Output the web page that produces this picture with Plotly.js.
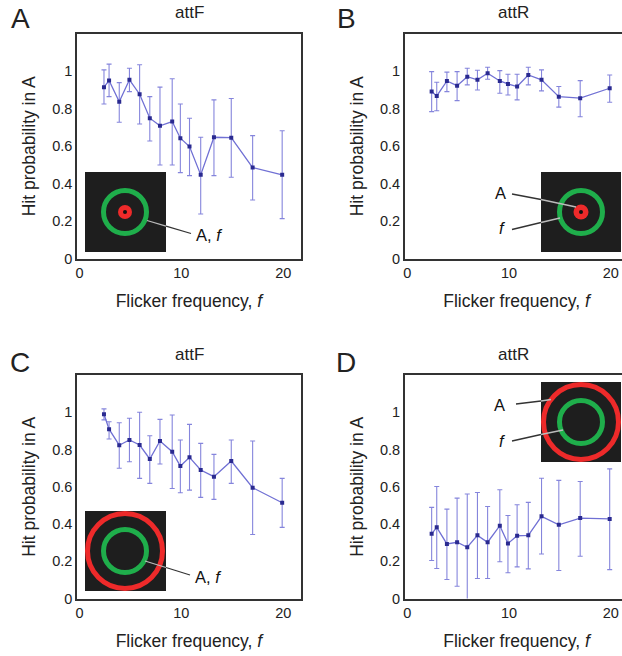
<!DOCTYPE html>
<html>
<head>
<meta charset="utf-8">
<script src="https://cdn.plot.ly/plotly-3.0.1.min.js"></script>
<style>
html,body{margin:0;padding:0;overflow:hidden;background:#fff;}
#chart{width:640px;height:656px;}
</style>
</head>
<body>
<div id="chart"></div>
<script>
// ---------------- DATA ----------------
const freq = [2.4, 2.9, 3.9, 4.9, 5.9, 6.9, 7.9, 9.1, 9.9, 10.8, 11.9, 13.2, 14.9, 17.0, 19.9];

// Panel A (attF)
const hitA    = [0.916, 0.951, 0.838, 0.955, 0.878, 0.750, 0.709, 0.732, 0.643, 0.598, 0.447, 0.648, 0.646, 0.486, 0.447];
const hitA_hi = [1.008, 1.039, 0.940, 1.017, 1.036, 0.865, 0.916, 0.961, 0.826, 0.750, 0.648, 0.848, 0.855, 0.657, 0.683];
const hitA_lo = [0.826, 0.865, 0.728, 0.892, 0.719, 0.628, 0.500, 0.500, 0.459, 0.443, 0.238, 0.443, 0.434, 0.313, 0.213];

// Panel B (attR)
const hitB    = [0.892, 0.869, 0.949, 0.924, 0.972, 0.955, 0.990, 0.949, 0.933, 0.919, 0.981, 0.955, 0.865, 0.857, 0.910];
const hitB_hi = [0.999, 0.942, 0.996, 0.999, 1.017, 1.006, 1.022, 1.004, 0.985, 0.985, 1.022, 1.008, 0.919, 0.951, 0.981];
const hitB_lo = [0.785, 0.790, 0.892, 0.844, 0.928, 0.901, 0.958, 0.883, 0.874, 0.848, 0.928, 0.896, 0.809, 0.758, 0.835];

// Panel C (attF)
const hitC    = [0.989, 0.909, 0.823, 0.851, 0.824, 0.749, 0.846, 0.788, 0.711, 0.758, 0.690, 0.654, 0.738, 0.595, 0.514];
const hitC_hi = [1.018, 0.949, 0.944, 0.968, 1.000, 0.874, 0.962, 0.985, 0.851, 0.935, 0.833, 0.774, 0.851, 0.846, 0.645];
const hitC_lo = [0.959, 0.856, 0.699, 0.734, 0.645, 0.618, 0.722, 0.591, 0.568, 0.582, 0.543, 0.532, 0.618, 0.344, 0.382];

// Panel D (attR)
const hitD    = [0.347, 0.382, 0.293, 0.302, 0.275, 0.339, 0.302, 0.391, 0.295, 0.337, 0.339, 0.441, 0.396, 0.432, 0.427];
const hitD_hi = [0.489, 0.601, 0.480, 0.539, 0.561, 0.569, 0.494, 0.584, 0.446, 0.503, 0.516, 0.646, 0.634, 0.628, 0.696];
const hitD_lo = [0.204, 0.161, 0.102, 0.066, -0.02, 0.107, 0.107, 0.197, 0.138, 0.170, 0.159, 0.239, 0.150, 0.227, 0.155];

const panelLetters = ["A", "B", "C", "D"];
const panelTitles = ["attF", "attR", "attF", "attR"];
const xTicks = [0, 10, 20];
const yTicks = [0, 0.2, 0.4, 0.6, 0.8, 1];
const yTickText = ["0", "0.2", "0.4", "0.6", "0.8", "1"];
const xTitle = "Flicker frequency, <i>f</i>";
const yTitle = "Hit probability in A";

// ---------------- LAYOUT HELPERS ----------------
const W = 640, H = 656;
const fx = p => p / W;
const fy = p => 1 - p / H;

const FONT = "Liberation Sans, Arial, sans-serif";
const lineCol = "#7070d4";
const markCol = "#2a2a90";
const errCol = "#8585dc";

function trace(y, hi, lo, ax) {
  return {
    x: freq, y: y, type: "scatter", mode: "lines+markers",
    xaxis: "x" + ax, yaxis: "y" + ax,
    line: {color: lineCol, width: 1.3},
    marker: {symbol: "square", size: 4, color: markCol},
    error_y: {
      type: "data", symmetric: false,
      array: hi.map((v, i) => v - y[i]),
      arrayminus: lo.map((v, i) => y[i] - v),
      color: errCol, thickness: 1.1, width: 2.5
    },
    showlegend: false, hoverinfo: "x+y"
  };
}

const data = [
  trace(hitA, hitA_hi, hitA_lo, ""),
  trace(hitB, hitB_hi, hitB_lo, "2"),
  trace(hitC, hitC_hi, hitC_lo, "3"),
  trace(hitD, hitD_hi, hitD_lo, "4")
];

// pixel boxes of each panel [left, right, top, bottom]
const boxes = [
  [77.3, 300.5, 34, 258.5],
  [405, 628, 34, 258.5],
  [77.3, 300.5, 375, 598.5],
  [405, 628, 375, 598.5]
];

function xax(b) {
  return {
    domain: [fx(b[0]), fx(b[1])],
    range: [-0.22, 21.7],
    tickvals: xTicks, ticktext: xTicks.map(String),
    ticks: "", showgrid: false, zeroline: false,
    showline: true, mirror: true, linewidth: 2, linecolor: "#333",
    tickfont: {family: FONT, size: 14.5, color: "#222"},
    title: {text: xTitle, font: {family: FONT, size: 17.5, color: "#222"}, standoff: 15},
    automargin: false, fixedrange: true
  };
}
function yax(b) {
  return {
    domain: [fy(b[3]), fy(b[2])],
    range: [0, 1.2],
    tickvals: yTicks, ticktext: yTickText,
    ticks: "", showgrid: false, zeroline: false,
    showline: true, mirror: true, linewidth: 2, linecolor: "#333",
    tickfont: {family: FONT, size: 14.5, color: "#222"},
    title: {text: yTitle, font: {family: FONT, size: 17.5, color: "#222"}, standoff: 12},
    automargin: false, fixedrange: true
  };
}

const layout = {
  width: W, height: H,
  margin: {l: 0, r: 0, t: 0, b: 0},
  paper_bgcolor: "#fff", plot_bgcolor: "#fff",
  font: {family: FONT, color: "#222"},
  xaxis: Object.assign(xax(boxes[0]), {anchor: "y"}),
  yaxis: Object.assign(yax(boxes[0]), {anchor: "x"}),
  xaxis2: Object.assign(xax(boxes[1]), {anchor: "y2"}),
  yaxis2: Object.assign(yax(boxes[1]), {anchor: "x2"}),
  xaxis3: Object.assign(xax(boxes[2]), {anchor: "y3"}),
  yaxis3: Object.assign(yax(boxes[2]), {anchor: "x3"}),
  xaxis4: Object.assign(xax(boxes[3]), {anchor: "y4"}),
  yaxis4: Object.assign(yax(boxes[3]), {anchor: "x4"}),
  shapes: [],
  annotations: []
};

// panel letters and titles
const letterPos = [[20, 19], [346, 19], [20, 362], [346, 362]];
boxes.forEach((b, i) => {
  layout.annotations.push({
    xref: "paper", yref: "paper", x: fx(letterPos[i][0]), y: fy(letterPos[i][1]),
    text: panelLetters[i], showarrow: false, xanchor: "center", yanchor: "middle",
    font: {family: FONT, size: 28, color: "#222"}
  });
  layout.annotations.push({
    xref: "paper", yref: "paper", x: fx((i % 2 === 0) ? 189 : 513), y: fy(b[2] - 21),
    text: panelTitles[i], showarrow: false, xanchor: "center", yanchor: "middle",
    font: {family: FONT, size: 17, color: "#222"}
  });
});

// ---------------- INSETS (decoration) ----------------
function rect(x0, y0, x1, y1, fill) {
  layout.shapes.push({type: "rect", xref: "paper", yref: "paper", layer: "above",
    x0: fx(x0), x1: fx(x1), y0: fy(y1), y1: fy(y0), fillcolor: fill, line: {width: 0}});
}
function ring(cx, cy, r, color, w) {
  layout.shapes.push({type: "circle", xref: "paper", yref: "paper", layer: "above",
    x0: fx(cx - r), x1: fx(cx + r), y0: fy(cy + r), y1: fy(cy - r),
    fillcolor: "rgba(0,0,0,0)", line: {color: color, width: w}});
}
function disc(cx, cy, r, color) {
  layout.shapes.push({type: "circle", xref: "paper", yref: "paper", layer: "above",
    x0: fx(cx - r), x1: fx(cx + r), y0: fy(cy + r), y1: fy(cy - r),
    fillcolor: color, line: {width: 0}});
}
function seg(x0, y0, x1, y1, color) {
  layout.shapes.push({type: "line", xref: "paper", yref: "paper", layer: "above",
    x0: fx(x0), x1: fx(x1), y0: fy(y0), y1: fy(y1), line: {color: color, width: 1.3}});
}
function label(x, y, text, anchor) {
  layout.annotations.push({xref: "paper", yref: "paper", x: fx(x), y: fy(y), text: text,
    showarrow: false, xanchor: anchor || "left", yanchor: "middle",
    font: {family: FONT, size: 16.5, color: "#111"}});
}
const GREEN = "#1fae4b", RED = "#ee2a2a", BLK = "#1e1e1e";

// Inset A
rect(85, 172, 166, 252, BLK);
ring(125, 212, 21.5, GREEN, 5);
disc(125, 212, 7, RED);
disc(125, 212, 2, "#111");
seg(147, 220.5, 166, 226.2, "#bbbbbb");
seg(166, 226.2, 191, 233.5, "#333");
label(194, 235, "A, <i>f</i>");

// Inset B
rect(541, 172, 621, 252, BLK);
ring(581, 212, 21.5, GREEN, 5);
disc(581, 212, 7.5, RED);
disc(581, 212, 2, "#111");
seg(512, 194, 541, 199.5, "#333");
seg(541, 199.5, 576, 207, "#bbbbbb");
seg(512, 229.5, 541, 222.5, "#333");
seg(541, 222.5, 560, 218, "#bbbbbb");
label(500, 193, "A", "center");
label(502, 228, "<i>f</i>", "center");

// Inset C
rect(85, 511, 166, 591, BLK);
ring(125, 551, 37.5, RED, 5);
ring(125, 551, 21.5, GREEN, 5);
seg(145, 561, 166, 567.5, "#bbbbbb");
seg(166, 567.5, 190, 575, "#333");
label(193, 577, "A, <i>f</i>");

// Inset D
rect(541, 382, 621, 462, BLK);
ring(581, 422, 37.5, RED, 5);
ring(581, 422, 21.5, GREEN, 5);
seg(516, 404, 541, 401, "#333");
seg(541, 401, 551, 399.5, "#bbbbbb");
seg(512, 441, 541, 434.5, "#333");
seg(541, 434.5, 563, 430, "#bbbbbb");
label(499, 405, "A", "center");
label(502, 441, "<i>f</i>", "center");

Plotly.newPlot("chart", data, layout, {displayModeBar: false, staticPlot: true});
</script>
</body>
</html>
